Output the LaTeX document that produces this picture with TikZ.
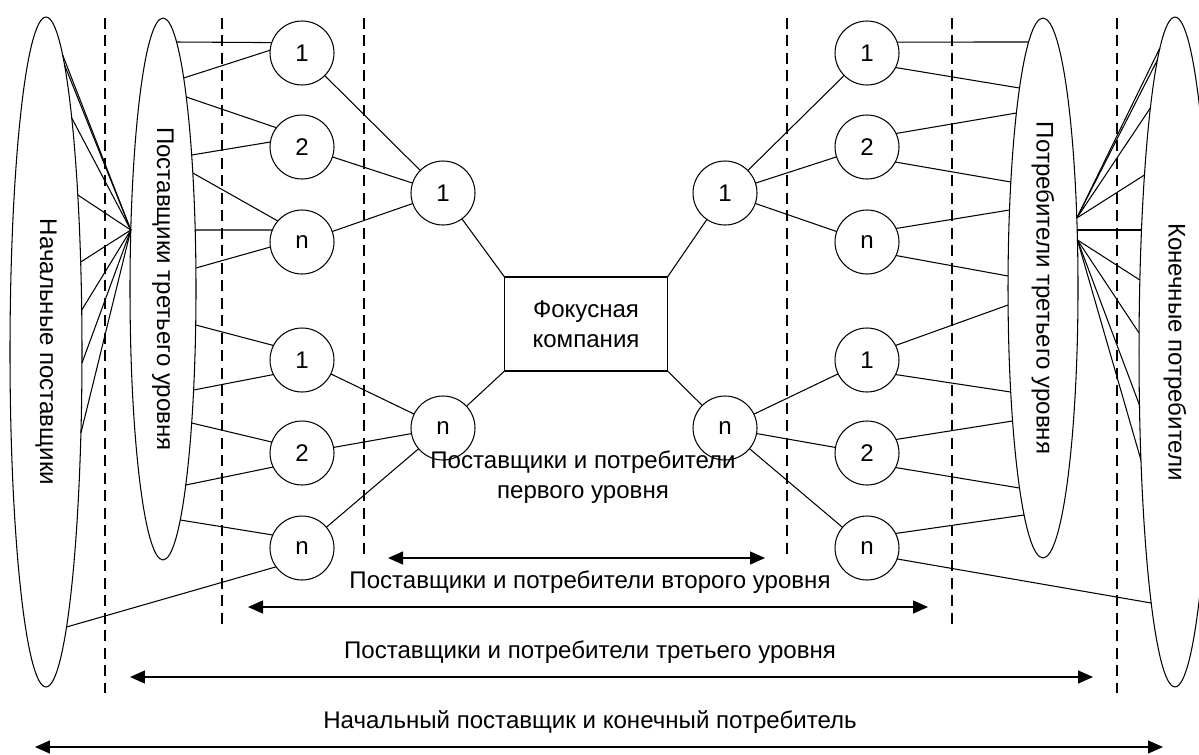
\documentclass[tikz,border=0pt]{standalone}
\usepackage{fontspec}
\setmainfont{Liberation Sans}
\usetikzlibrary{shapes.geometric, arrows.meta, calc}

% точки на эллипсах по высоте y
\newcommand{\nachE}[1]{($(nach.center)+({36*sqrt(1-((#1-352)/335)^2)},{#1-352})$)}
\newcommand{\postE}[1]{($(post3.center)+({33*sqrt(1-((#1-289)/271)^2)},{#1-289})$)}
\newcommand{\postW}[1]{($(post3.center)+({-33*sqrt(1-((#1-289)/271)^2)},{#1-289})$)}
\newcommand{\potrE}[1]{($(potr3.center)+({35*sqrt(1-((#1-288)/270)^2)},{#1-288})$)}
\newcommand{\potrW}[1]{($(potr3.center)+({-35*sqrt(1-((#1-288)/270)^2)},{#1-288})$)}
\newcommand{\konW}[1]{($(kon.center)+({-36*sqrt(1-((#1-352)/335)^2)},{#1-352})$)}

\begin{document}
\begin{tikzpicture}[x=0.02cm, y=-0.02cm, line width=0.6pt,
  font=\fontsize{13.7}{17}\selectfont,
  every node/.style={inner sep=0pt, outer sep=0pt},
  uzel/.style={circle, draw, minimum size=1.28cm},
  oval/.style={ellipse, draw},
  razdel/.style={line width=1.1pt, dash pattern=on 0.22cm off 0.13cm},
  uroven/.style={{Triangle[length=0.3cm,width=0.26cm]}-{Triangle[length=0.3cm,width=0.26cm]}, line width=0.7pt}]
\useasboundingbox (0,0) rectangle (1199,754);

% Эллипсы
\node[oval, minimum width=1.44cm, minimum height=13.4cm] (nach) at (46,352) {};
\node[oval, minimum width=1.32cm, minimum height=10.84cm] (post3) at (163,289) {};
\node[oval, minimum width=1.4cm, minimum height=10.8cm] (potr3) at (1043,288) {};
\node[oval, minimum width=1.44cm, minimum height=13.4cm] (kon) at (1175,352) {};
\node[rotate=-90] (nachtxt) at (nach.center) {Начальные поставщики};
\node[rotate=-90] (post3txt) at (post3.center) {Поставщики третьего уровня};
\node[rotate=-90] (potr3txt) at (potr3.center) {Потребители третьего уровня};
\node[rotate=-90] (kontxt) at (kon.center) {Конечные потребители};

% Поставщики
\node[uzel] (p2a1) at (302,53) {1};
\node[uzel] (p2a2) at (302,147) {2};
\node[uzel] (p2an) at (302,242) {n};
\node[uzel] (p2b1) at (302,360) {1};
\node[uzel] (p2b2) at (302,453) {2};
\node[uzel] (p2bn) at (302,548) {n};
\node[uzel] (p11) at (443,193) {1};
\node[uzel] (p1n) at (443,428) {n};

% Фокусная компания
\node[draw, minimum width=3.26cm, minimum height=1.88cm, align=center] (focus) at (586,324) {Фокусная\\компания};

% Потребители
\node[uzel] (k11) at (725,193) {1};
\node[uzel] (k1n) at (725,428) {n};
\node[uzel] (k2a1) at (867,53) {1};
\node[uzel] (k2a2) at (867,147) {2};
\node[uzel] (k2an) at (867,242) {n};
\node[uzel] (k2b1) at (867,360) {1};
\node[uzel] (k2b2) at (867,453) {2};
\node[uzel] (k2bn) at (867,548) {n};

% Разделители уровней
\foreach \xx/\yy in {105/693, 222/625, 364/560, 787/560, 952/625, 1117/693}
  \draw[razdel] (\xx,18) -- (\xx,\yy);

% Связи слева
\foreach \yy in {55, 65, 118, 195, 262, 310, 363, 433}
  \draw \postW{230} -- \nachE{\yy};
\draw (p2a1.161) -- \postE{42};
\draw (p2a1.175) -- \postE{78};
\draw (p2a2.143) -- \postE{97};
\draw (p2a2.171) -- \postE{155};
\draw (p2an.139) -- \postE{173};
\draw (p2an.158) -- \postE{230};
\draw (p2an.189) -- \postE{268};
\draw (p2b1.153) -- \postE{325};
\draw (p2b1.207) -- \postE{390};
\draw (p2b2.160) -- \postE{423};
\draw (p2b2.206) -- \postE{485};
\draw (p2bn.156) -- \postE{520};
\draw (p2bn.216) -- \nachE{627};
\path[draw]
(p2a1) edge (p11)
(p2a2) edge (p11)
(p2an) edge (p11)
(p2b1) edge (p1n)
(p2b2) edge (p1n)
(p2bn) edge (p1n)
(p11) edge (focus.north west)
(p1n) edge (focus.south west);

% Связи справа
\path[draw]
(k11) edge (focus.north east)
(k1n) edge (focus.south east)
(k11) edge (k2a1)
(k11) edge (k2a2)
(k11) edge (k2an)
(k1n) edge (k2b1)
(k1n) edge (k2b2)
(k1n) edge (k2bn);
\draw (k2a1.20) -- \potrW{42};
\draw (k2a1.333) -- \potrW{88};
\draw (k2a2.25) -- \potrW{113};
\draw (k2a2.332) -- \potrW{182};
\draw (k2an.25) -- \potrW{210};
\draw (k2an.335) -- \potrW{276};
\draw (k2b1.27) -- \potrW{305};
\draw (k2b1.333) -- \potrW{392};
\draw (k2b2.25) -- \potrW{421};
\draw (k2b2.333) -- \potrW{488};
\draw (k2bn.27) -- \potrW{515};
\draw (k2bn.340) -- \konW{603};
\foreach \yy in {48, 60, 108, 175}
  \draw \potrE{218} -- \konW{\yy};
\draw \potrE{230} -- \konW{230};
\foreach \yy in {280, 333, 405, 460}
  \draw \potrE{240} -- \konW{\yy};

% Уровни
\coordinate (u1l) at (388,558);
\coordinate (u1r) at (765,558);
\coordinate (u2l) at (248,607);
\coordinate (u2r) at (928,607);
\coordinate (u3l) at (130,677);
\coordinate (u3r) at (1093,677);
\coordinate (u4l) at (35,747);
\coordinate (u4r) at (1163,747);
\draw[uroven] (u1l) -- (u1r);
\draw[uroven] (u2l) -- (u2r);
\draw[uroven] (u3l) -- (u3r);
\draw[uroven] (u4l) -- (u4r);
\node[align=center] (t1) at (583,477) {Поставщики и потребители\\первого уровня};
\node (t2) at (590,582) {Поставщики и потребители второго уровня};
\node (t3) at (590,652) {Поставщики и потребители третьего уровня};
\node (t4) at (590,722) {Начальный поставщик и конечный потребитель};
\end{tikzpicture}
\end{document}
